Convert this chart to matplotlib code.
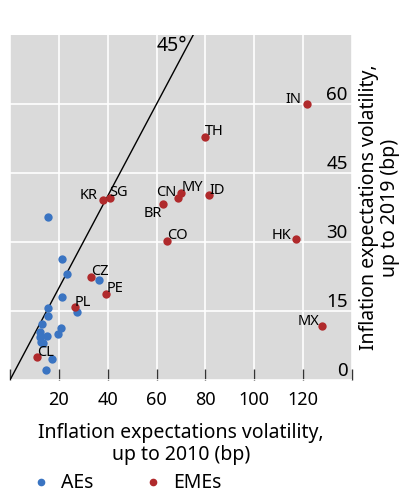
import matplotlib
matplotlib.use("Agg")
import matplotlib.pyplot as plt
from matplotlib.lines import Line2D

plt.rcParams['font.family'] = ['Noto Sans', 'DejaVu Sans']

# advanced economies (no labels)
ae_x = [15.5, 21.2, 23.3, 36.6, 21.4, 15.6, 27.6, 15.4, 13.2, 20.9,
        19.7, 12.2, 15.0, 12.1, 12.7, 13.7, 17.1, 14.7]
ae_y = [35.5, 26.4, 23.0, 21.7, 18.0, 15.7, 14.7, 13.9, 12.1, 11.3,
        10.1, 10.5, 9.6, 9.4, 8.3, 8.0, 4.6, 2.2]

# emerging market economies
eme_names = ['IN', 'TH', 'MY', 'CN', 'ID', 'BR', 'CO', 'HK', 'MX',
             'KR', 'SG', 'CZ', 'PE', 'PL', 'CL']
eme_x = [121.6, 79.7, 70.2, 68.7, 81.6, 62.7, 64.4, 117.0, 127.6,
         38.2, 40.8, 33.1, 39.5, 26.5, 11.0]
eme_y = [60.0, 52.9, 40.7, 39.6, 40.2, 38.2, 30.3, 30.6, 11.8,
         39.1, 39.6, 22.5, 18.7, 15.8, 4.9]
# where each label sits (pixels from the dot)
lab_off = {'IN': (-6, 4, 'right'), 'CN': (-1, 5, 'right'), 'BR': (-1, -9, 'right'),
           'HK': (-4, 4, 'right'), 'MX': (-2, 4, 'right'), 'KR': (-6, 5, 'right')}

blue = '#3a74c2'
red = '#b02a2c'

fig = plt.figure(figsize=(4.05, 4.97), dpi=100)
ax = fig.add_axes([0.0247, 0.2354, 0.8444, 0.6942])
ax.set_facecolor('#dadada')
for s in ax.spines.values():
    s.set_visible(False)

ax.set_xlim(0, 140)
ax.set_ylim(0, 75)
ax.set_xticks(range(0, 141, 20))
ax.set_xticklabels(['', '20', '40', '60', '80', '100', '120', ''])
ax.set_yticks([0, 15, 30, 45, 60])
ax.grid(True, color='white', linewidth=1.2)
ax.set_axisbelow(True)

ax.tick_params(axis='x', direction='in', length=8, width=1, color='#333333',
               labelsize=13, pad=8)
ax.tick_params(axis='y', left=False, right=True, labelleft=False, labelright=True,
               length=0, labelsize=13.5, pad=-3)
for lab in ax.get_yticklabels():
    lab.set_ha('right')
    lab.set_va('bottom')

# 45 degree line
ax.plot([0, 75], [0, 75], color='black', linewidth=1)
ax.text(60.0, 72.6, '45°', fontsize=14, ha='left', va='center')

ax.scatter(ae_x, ae_y, s=36, color=blue, zorder=3, linewidths=0)
ax.scatter(eme_x, eme_y, s=36, color=red, zorder=3, linewidths=0)
for n, x, y in zip(eme_names, eme_x, eme_y):
    dx, dy, ha = lab_off.get(n, (0, 5, 'left'))
    ax.annotate(n, (x, y), xytext=(dx, dy), textcoords='offset pixels',
                ha=ha, va='center', fontsize=10.5)

ax.set_xlabel('Inflation expectations volatility,\nup to 2010 (bp)', fontsize=14,
              labelpad=10, linespacing=1.1)
ax.yaxis.set_label_position('right')
ax.set_ylabel('Inflation expectations volatility,\nup to 2019 (bp)', fontsize=14,
              labelpad=5, linespacing=1.1)

handles = [Line2D([], [], marker='o', linestyle='', color=blue, markersize=4.5),
           Line2D([], [], marker='o', linestyle='', color=red, markersize=4.5)]
fig.legend(handles, ['AEs', 'EMEs'], loc='lower left', bbox_to_anchor=(0.035, -0.028),
           ncol=2, frameon=False, fontsize=14, handletextpad=0.5,
           columnspacing=2.6, handlelength=1)

fig.savefig('out.png', dpi=100)
